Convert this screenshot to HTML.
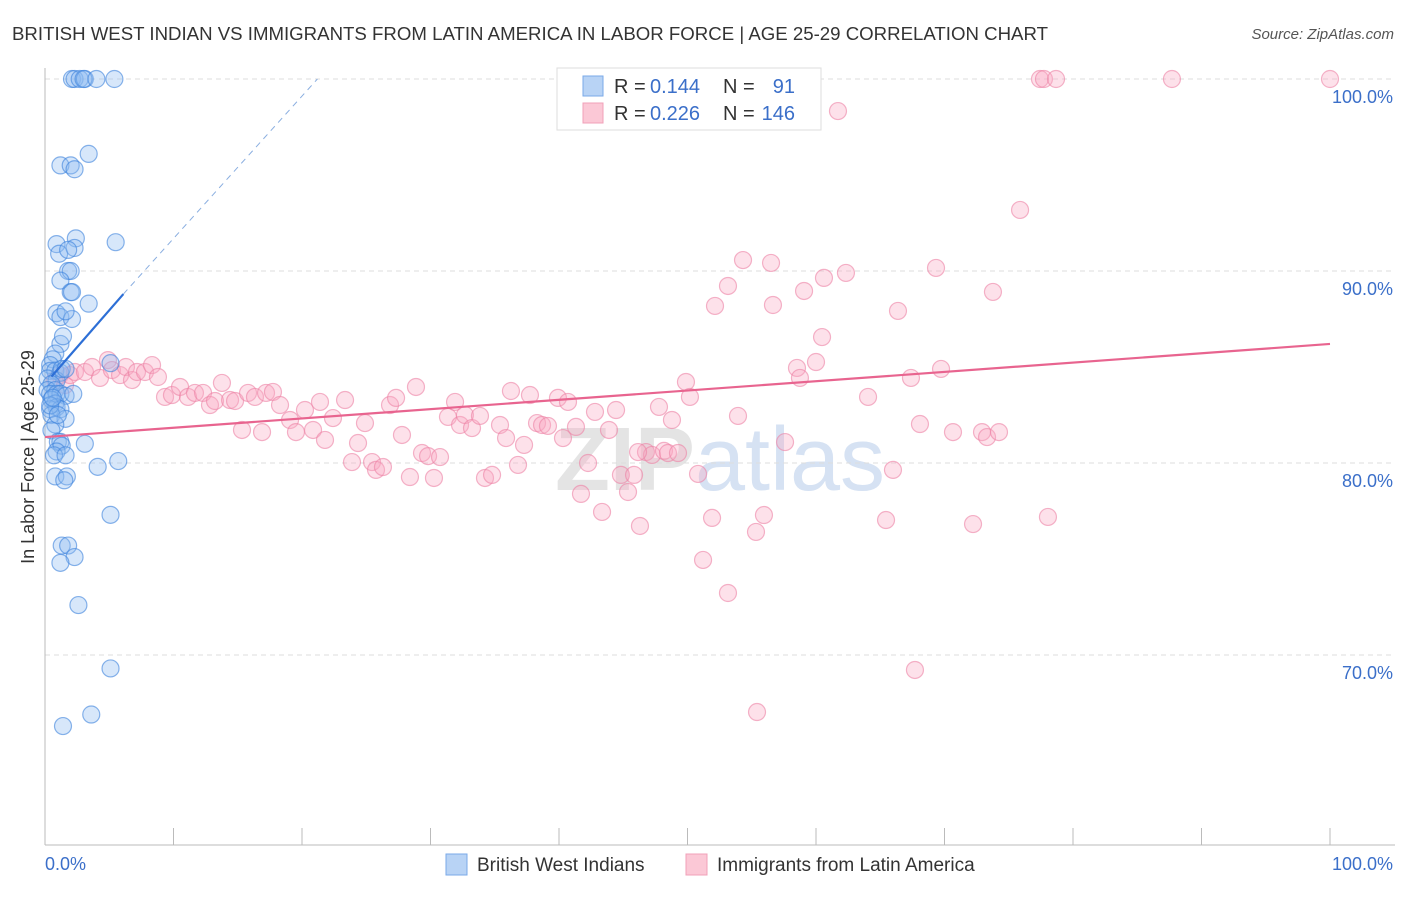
<!DOCTYPE html>
<html><head><meta charset="utf-8"><style>
body{margin:0;background:#fff;font-family:"Liberation Sans",sans-serif}
svg text{font-family:"Liberation Sans",sans-serif}
</style></head><body>
<svg id="chart" width="1406" height="892" xmlns="http://www.w3.org/2000/svg">
<text x="12" y="40" font-size="18" fill="#333" textLength="1036" lengthAdjust="spacingAndGlyphs">BRITISH WEST INDIAN VS IMMIGRANTS FROM LATIN AMERICA IN LABOR FORCE | AGE 25-29 CORRELATION CHART</text>
<text x="1394" y="39" font-size="15" fill="#555" font-style="italic" text-anchor="end">Source: ZipAtlas.com</text>
<text x="720" y="490" font-size="90" fill="#e4e4e4" text-anchor="middle" font-weight="bold">ZIP<tspan fill="#d6e2f3" font-weight="normal">atlas</tspan></text>
<g id="grid"></g>
<line x1="45" y1="68" x2="45" y2="845" stroke="#bbb"/>
<line x1="45" y1="845" x2="1395" y2="845" stroke="#bbb"/>
<g id="xticks"></g>
<text transform="translate(34,457) rotate(-90)" font-size="18" fill="#333" text-anchor="middle">In Labor Force | Age 25-29</text>
<text x="45" y="870" font-size="18" fill="#3b6fc9">0.0%</text>
<text x="1393" y="870" font-size="18" fill="#3b6fc9" text-anchor="end">100.0%</text>
<g id="pts"></g>
<g id="trends"></g>
<g>
<rect x="557" y="68" width="264" height="62" fill="#fff" stroke="#ddd"/>
<rect x="583" y="76" width="20" height="20" fill="#b8d3f5" stroke="#7aaae8"/>
<rect x="583" y="103" width="20" height="20" fill="#fbc8d6" stroke="#f0a0b8"/>
<text x="614" y="93" font-size="20" fill="#333">R =</text>
<text x="650" y="93" font-size="20" fill="#3b6fc9">0.144</text>
<text x="723" y="93" font-size="20" fill="#333">N =</text>
<text x="795" y="93" font-size="20" fill="#3b6fc9" text-anchor="end">91</text>
<text x="614" y="120" font-size="20" fill="#333">R =</text>
<text x="650" y="120" font-size="20" fill="#3b6fc9">0.226</text>
<text x="723" y="120" font-size="20" fill="#333">N =</text>
<text x="795" y="120" font-size="20" fill="#3b6fc9" text-anchor="end">146</text>
</g>
<g>
<rect x="446" y="854" width="21" height="21" fill="#b8d3f5" stroke="#7aaae8"/>
<text x="477" y="871" font-size="19" fill="#333">British West Indians</text>
<rect x="686" y="854" width="21" height="21" fill="#fbc8d6" stroke="#f0a0b8"/>
<text x="717" y="871" font-size="19" fill="#333">Immigrants from Latin America</text>
</g>
</svg>
<script>
const yTicks=[100,90,80,70];
const xTickVals=[0,10,20,30,40,50,60,70,80,90,100];
const blueX=[2.1,2.3,2.7,3.1,3.0,4.0,5.4,1.2,2.0,2.3,3.4,0.9,1.1,2.4,2.3,1.8,5.5,1.8,2.0,1.2,2.0,2.1,3.4,0.9,1.2,2.1,1.6,1.2,1.4,0.8,0.6,0.4,0.4,0.8,1.2,0.2,0.9,1.3,1.6,0.5,0.2,0.8,0.4,0.9,1.2,1.6,2.2,0.5,0.8,0.9,0.4,1.2,0.5,1.6,0.8,0.5,1.0,1.2,1.3,3.1,0.9,0.7,1.6,0.8,1.7,1.5,4.1,5.7,5.1,5.1,1.3,1.8,2.3,1.2,2.6,5.1,1.4,3.6,0.4,0.6,1.0];
const blueY=[100,100,100,100,100,100,100,95.5,95.5,95.3,96.1,91.4,90.9,91.7,91.2,91.1,91.5,90.0,90.0,89.5,88.9,88.9,88.3,87.8,87.6,87.5,87.9,86.2,86.6,85.7,85.4,85.1,84.8,84.8,84.7,84.4,84.3,84.9,84.9,84.1,83.8,83.8,83.6,83.6,83.6,83.5,83.6,83.3,83.1,82.9,82.8,82.8,82.5,82.3,82.0,81.7,81.1,81.1,80.9,81.0,80.6,80.4,80.4,79.3,79.3,79.1,79.8,80.1,85.2,77.3,75.7,75.7,75.1,74.8,72.6,69.3,66.3,66.9,83.0,83.4,82.5];
const pinkX=[0.78,1.17,1.56,1.95,2.33,3.11,3.66,4.28,4.90,5.21,5.84,6.30,6.77,7.16,7.78,8.33,8.79,9.34,9.88,10.51,11.13,11.67,12.30,12.84,13.23,13.77,14.40,14.79,15.33,15.80,16.34,16.89,17.20,17.74,18.29,19.07,19.53,20.23,20.86,21.40,21.79,22.41,23.35,23.89,24.36,24.90,25.45,25.76,26.30,26.85,27.32,27.78,28.40,28.87,29.34,29.81,30.27,30.74,31.36,31.91,32.30,32.68,33.23,33.85,34.24,34.79,35.41,35.88,36.26,36.81,37.28,37.74,38.29,38.68,39.14,39.92,40.31,40.70,41.32,41.71,42.26,42.80,43.35,43.89,44.44,44.82,45.37,45.84,46.30,46.77,47.24,47.78,48.17,48.48,48.79,49.26,49.88,50.19,50.82,51.21,51.91,52.14,53.15,53.93,54.32,55.33,55.41,55.95,56.50,56.65,57.59,58.52,58.75,59.07,60.00,60.47,60.62,61.71,62.33,64.05,65.45,65.99,66.38,67.39,67.70,68.09,69.34,69.73,70.66,72.22,72.92,73.31,73.77,74.24,75.88,77.43,77.74,78.68,78.05,87.70,100,53.15,46.15];
const pinkY=[84.32,84.58,84.06,84.58,84.74,84.74,85.0,84.43,85.36,84.84,84.58,85.0,84.32,84.74,84.74,85.1,84.48,83.44,83.54,83.96,83.44,83.65,83.65,83.02,83.23,84.17,83.28,83.23,81.72,83.65,83.44,81.61,83.65,83.70,83.02,82.24,81.61,82.76,81.72,83.18,81.2,82.34,83.28,80.05,81.04,82.08,80.05,79.64,79.79,83.02,83.39,81.46,79.27,83.96,80.52,80.36,79.22,80.31,82.40,83.18,81.98,82.5,81.82,82.45,79.22,79.38,81.98,81.30,83.75,79.90,80.94,83.54,82.08,81.98,81.93,83.39,81.30,83.18,81.88,78.39,80.0,82.66,77.45,81.72,82.76,79.38,78.49,79.38,76.72,80.57,80.42,82.92,80.63,80.52,82.24,80.52,84.22,83.44,79.43,74.95,77.14,88.18,89.22,82.45,90.57,76.41,67.03,77.29,90.42,88.23,81.09,84.95,84.43,88.96,85.26,86.56,89.64,98.33,89.90,83.44,77.03,79.64,87.92,84.43,69.22,82.03,90.16,84.90,81.61,76.82,81.61,81.35,88.91,81.61,93.18,100,100,100,77.19,100,100,73.23,80.57];
const X0=45,X1=1330,Y100=79,PX=19.2;
const xs=v=>X0+v/100*(X1-X0);
const ys=v=>Y100+(100-v)*PX;
const NS='http://www.w3.org/2000/svg';
function mk(tag,attrs,parent){const e=document.createElementNS(NS,tag);for(const k in attrs)e.setAttribute(k,attrs[k]);parent.appendChild(e);return e;}
const grid=document.getElementById('grid');
yTicks.forEach(t=>{
 const l=mk('line',{x1:45,x2:1395,y1:ys(t),y2:ys(t),stroke:'#ddd','stroke-dasharray':'5,4'},grid);
 
 
 const tx=mk('text',{x:1393,y:ys(t)+24,'font-size':18,fill:'#3b6fc9','text-anchor':'end'},grid);
 tx.textContent=t.toFixed(1)+'%';
 
 
});
const xt=document.getElementById('xticks');
xTickVals.forEach(t=>{
 const l=mk('line',{x1:xs(t),x2:xs(t),y1:828,y2:845,stroke:'#bbb'},xt);
 
 
});
const pts=document.getElementById('pts');
pinkX.forEach((x,i)=>{
 const c=mk('circle',{cx:xs(x),cy:ys(pinkY[i]),r:8.5,fill:'rgba(248,170,195,0.35)',stroke:'rgba(236,130,165,0.6)','stroke-width':1.2},pts);
 
 
});
blueX.forEach((x,i)=>{
 const c=mk('circle',{cx:xs(x),cy:ys(blueY[i]),r:8.5,fill:'rgba(140,185,240,0.35)',stroke:'rgba(60,130,220,0.6)','stroke-width':1.2},pts);
 
 
});
const tr=document.getElementById('trends');
let l1=mk('line',{x1:xs(0.5),y1:ys(84.5),x2:xs(6.1),y2:ys(88.8),stroke:'#2d6fd6','stroke-width':2.2},tr);


let l2=mk('line',{x1:xs(6.1),y1:ys(88.8),x2:xs(21.2),y2:ys(100),stroke:'#8aaee0','stroke-width':1,'stroke-dasharray':'6,5'},tr);


let l3=mk('line',{x1:xs(0),y1:ys(81.35),x2:xs(100),y2:ys(86.2),stroke:'#e8648f','stroke-width':2.2},tr);


</script>
</body></html>
